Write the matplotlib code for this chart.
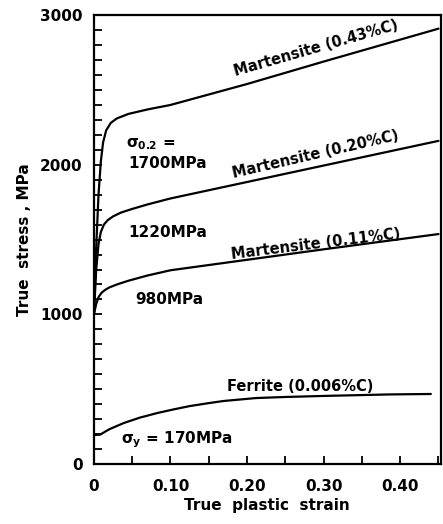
import matplotlib.pyplot as plt
from matplotlib.ticker import MultipleLocator, FixedLocator

plt.rcParams['font.family'] = ['DejaVu Sans']
# bold math so the sigma labels match the rest of the lettering
plt.rcParams['mathtext.fontset'] = 'custom'
plt.rcParams['mathtext.rm'] = 'DejaVu Sans:bold'
plt.rcParams['mathtext.it'] = 'DejaVu Sans:bold'
plt.rcParams['mathtext.bf'] = 'DejaVu Sans:bold'

# Data
strain_043 = [0, 0.003, 0.006, 0.009, 0.012, 0.016, 0.022, 0.03, 0.045, 0.07, 0.1, 0.2, 0.3, 0.45]
stress_043 = [1000, 1450, 1800, 2020, 2150, 2230, 2280, 2310, 2340, 2370, 2400, 2540, 2690, 2910]

strain_020 = [0, 0.003, 0.006, 0.009, 0.013, 0.018, 0.025, 0.035, 0.05, 0.07, 0.1, 0.2, 0.3, 0.45]
stress_020 = [1000, 1300, 1470, 1550, 1600, 1630, 1655, 1680, 1705, 1735, 1775, 1885, 1995, 2160]

strain_011 = [0, 0.003, 0.006, 0.01, 0.015, 0.02, 0.03, 0.045, 0.07, 0.1, 0.2, 0.3, 0.45]
stress_011 = [1000, 1070, 1115, 1145, 1165, 1180, 1200, 1225, 1260, 1295, 1365, 1435, 1537]

strain_fe = [0, 0.008, 0.02, 0.039, 0.06, 0.083, 0.105, 0.126, 0.15, 0.169, 0.212, 0.25, 0.30, 0.386, 0.44]
stress_fe = [194, 196, 232, 274, 310, 341, 366, 388, 407, 421, 441, 448, 455, 465, 468]

x_ticks = [0, 0.10, 0.20, 0.30, 0.40]
x_labels = ['0', '0.10', '0.20', '0.30', '0.40']
y_ticks = [0, 1000, 2000, 3000]

fig = plt.figure(figsize=(4.43, 5.24), dpi=100)
ax = fig.add_axes([0.212, 0.1145, 0.783, 0.8565])

lw = 1.6
for xs, ys in [(strain_043, stress_043), (strain_020, stress_020),
               (strain_011, stress_011), (strain_fe, stress_fe)]:
    ax.plot(xs, ys, color='black', lw=lw, solid_capstyle='round')

ax.set_xlim(0, 0.453)
ax.set_ylim(0, 3000)

ax.xaxis.set_major_locator(FixedLocator(x_ticks))
ax.set_xticklabels(x_labels)
ax.xaxis.set_minor_locator(MultipleLocator(0.05))
ax.yaxis.set_major_locator(FixedLocator(y_ticks))
ax.yaxis.set_minor_locator(MultipleLocator(100))
ax.tick_params(which='both', direction='in', length=6, width=1.3)
ax.tick_params(axis='y', labelsize=11, pad=8)
ax.tick_params(axis='x', labelsize=11, pad=11)
for lab in ax.get_xticklabels() + ax.get_yticklabels():
    lab.set_fontweight('bold')
for sp in ax.spines.values():
    sp.set_linewidth(1.6)

ax.set_xlabel('True  plastic  strain', fontsize=11, fontweight='bold', labelpad=3)
ax.set_ylabel('True  stress , MPa', fontsize=11, fontweight='bold', labelpad=6)

tkw = dict(fontsize=10.5, fontweight='bold', ha='center', va='center')
ax.text(0.290, 2780, 'Martensite (0.43%C)', rotation=16, **tkw)
ax.text(0.290, 2070, 'Martensite (0.20%C)', rotation=13, **tkw)
ax.text(0.290, 1470, 'Martensite (0.11%C)', rotation=7, **tkw)
ax.text(0.270, 520, 'Ferrite (0.006%C)', **tkw)

lkw = dict(fontsize=11, fontweight='bold', ha='left', va='center')
ax.text(0.042, 2140, r'$\sigma_{0.2}$ =', **lkw)
ax.text(0.045, 2010, '1700MPa', **lkw)
ax.text(0.045, 1550, '1220MPa', **lkw)
ax.text(0.054, 1100, '980MPa', **lkw)
ax.text(0.035, 160, r'$\sigma_y$ = 170MPa', **lkw)

fig.savefig('out.png', dpi=100)
